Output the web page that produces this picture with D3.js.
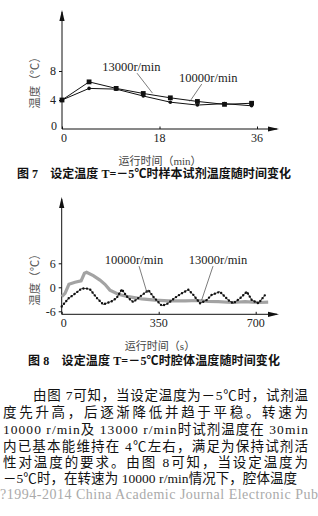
<!DOCTYPE html>
<html>
<head>
<meta charset="utf-8">
<script src="https://cdn.jsdelivr.net/npm/d3@7"></script>
<style>
  body { margin: 0; background: #fff; }
  svg { display: block; }
  text { font-family: "Liberation Serif", "Noto Sans CJK SC", serif; }
</style>
</head>
<body>
<div id="page"></div>
<script>
// fig 7 - reagent temperature (min)
const fig7Time = [0, 5, 10, 15, 20, 25, 30, 35];
const fig7Temp13000 = [4.0, 6.5, 5.6, 4.9, 4.3, 3.8, 3.4, 3.55];
const fig7Temp10000 = [4.0, 5.6, 5.5, 4.55, 3.7, 3.3, 3.5, 3.2];
const fig7XTicks = [0, 18, 36];
const fig7YTicks = [0, 4, 8];

// fig 8 - chamber temperature (s)
const fig8Time13000 = [0, 12, 26, 48, 70, 82, 90, 114, 138, 156, 174, 204, 240, 289, 337, 385, 445, 493, 529, 565, 614, 662, 710, 745];
const fig8Temp13000 = [-2.35, -1.5, 0.75, 1.25, 1.6, 3.5, 3.75, 2.9, 1.8, 0.75, -0.7, -1.75, -2.35, -2.9, -3.2, -3.4, -3.4, -3.3, -3.5, -3.6, -3.8, -3.6, -3.8, -3.7];
const fig8Time10000 = [0, 12, 24, 48, 72, 90, 102, 126, 150, 180, 198, 217, 235, 258, 283, 313, 331, 361, 379, 391, 409, 433, 457, 475, 499, 523, 541, 571, 601, 619, 643, 668, 686, 710, 734];
const fig8Temp10000 = [-4.8, -3.8, -2.8, -1.6, -0.3, -0.3, -0.5, -2.6, -4.3, -3.5, -2.7, -0.5, -2.3, -3.7, -2.3, -0.7, -2.4, -4.6, -4.2, -3.6, -2.6, -1.5, -0.6, -1.9, -4.0, -3.2, -1.9, -1.1, -3.2, -4.0, -2.8, -1.1, -3.2, -4.0, -1.9];
const fig8XTicks = [0, 350, 700];
const fig8YTicks = [-6, 0, 6];

const caption7 = "图 7　设定温度 T=－5℃时样本试剂温度随时间变化";
const caption8 = "图 8　设定温度 T=－5℃时腔体温度随时间变化";
const bodyLines = [
  "由图 7可知，当设定温度为－5℃时，试剂温",
  "度先升高，后逐渐降低并趋于平稳。转速为",
  "10000 r/min及 13000 r/min时试剂温度在 30min",
  "内已基本能维持在 4℃左右，满足为保持试剂活",
  "性对温度的要求。由图 8可知，当设定温度为",
  "－5℃时，在转速为 10000 r/min情况下，腔体温度"
];

const W = 318, H = 516;
const svg = d3.select('#page').append('svg')
  .attr('width', W).attr('height', H);
svg.append('rect').attr('width', W).attr('height', H).attr('fill', '#fff');

const arrow = (g, x1, y1, x2, y2, vertical) => {
  g.append('line').attr('x1', x1).attr('y1', y1).attr('x2', x2).attr('y2', y2)
    .attr('stroke', '#111').attr('stroke-width', 1);
  const pts = vertical
    ? [[x2, y2 - 2], [x2 - 2.6, y2 + 9], [x2 + 2.6, y2 + 9]]
    : [[x2 + 2, y2], [x2 - 9, y2 - 2.6], [x2 - 9, y2 + 2.6]];
  g.append('path').attr('d', 'M' + pts.join('L') + 'Z').attr('fill', '#111');
};

const drawFrame = (g, x, y, xTicks, yTicks, xTitle, yTitle, yTitleY, axisY, topY, tickFmt) => {
  const [x0] = x.range();
  // ticks via d3 axes, domain drawn separately with arrows
  const ya = g.append('g').attr('transform', `translate(${x0},0)`)
    .call(d3.axisLeft(y).tickValues(yTicks).tickSize(3).tickPadding(3).tickFormat(tickFmt));
  const xa = g.append('g').attr('transform', `translate(0,${axisY})`)
    .call(d3.axisTop(x).tickValues(xTicks).tickSize(2.5).tickFormat(''));
  [ya, xa].forEach(a => {
    a.select('.domain').remove();
    a.selectAll('line').attr('stroke', '#111');
    a.selectAll('text').attr('font-size', 12).attr('fill', '#222')
      .attr('font-family', '"Liberation Serif", serif');
  });
  g.selectAll('.xlab').data(xTicks).enter().append('text')
    .attr('x', d => x(d) + (d === 0 ? 2 : 0)).attr('y', axisY + 13)
    .attr('text-anchor', 'middle').attr('font-size', 12).attr('fill', '#222')
    .text(d => d);
  arrow(g, x0, axisY, x0, topY, true);
  arrow(g, x0, axisY, 277, axisY, false);
  g.append('text').attr('x', 160).attr('y', axisY + 36)
    .attr('text-anchor', 'middle').attr('font-size', 11).attr('fill', '#444')
    .text(xTitle);
  g.append('text').attr('transform', `translate(39,${yTitleY}) rotate(-90)`)
    .attr('text-anchor', 'middle').attr('font-size', 11.5).attr('fill', '#555')
    .text(yTitle);
};

const leader = (g, x, y, lab) => {
  g.append('text').attr('x', x(lab.t)).attr('y', y(lab.v))
    .attr('text-anchor', 'middle').attr('font-size', 12.5).attr('fill', '#222')
    .text(lab.text);
  g.append('line')
    .attr('x1', x(lab.from[0])).attr('y1', y(lab.from[1]))
    .attr('x2', x(lab.to[0])).attr('y2', y(lab.to[1]))
    .attr('stroke', '#444').attr('stroke-width', 0.7);
};

// ---------- Fig 7 ----------
const g7 = svg.append('g');
const x7 = d3.scaleLinear().domain([0, 36]).range([62, 257]);
const y7 = d3.scaleLinear().domain([0, 8]).range([129, 71]);
drawFrame(g7, x7, y7, fig7XTicks, fig7YTicks.filter(d => d > 0), '运行时间（min）', '温度（℃）', 80, 129, 12, d => d);
g7.append('text').attr('x', 57).attr('y', 130).attr('text-anchor', 'end')
  .attr('font-size', 12).attr('fill', '#222').text(fig7YTicks[0]);

const line7 = d3.line().x((d, i) => x7(fig7Time[i])).y(d => y7(d));
[fig7Temp13000, fig7Temp10000].forEach(s => {
  g7.append('path').attr('d', line7(s)).attr('fill', 'none')
    .attr('stroke', '#111').attr('stroke-width', 1);
});
g7.selectAll('.sq').data(fig7Temp13000).enter().append('rect')
  .attr('x', (d, i) => x7(fig7Time[i]) - 2.4).attr('y', d => y7(d) - 2.4)
  .attr('width', 4.8).attr('height', 4.8).attr('fill', '#111');
g7.selectAll('.ci').data(fig7Temp10000).enter().append('circle')
  .attr('cx', (d, i) => x7(fig7Time[i])).attr('cy', d => y7(d))
  .attr('r', 1.8).attr('fill', '#111');

leader(g7, x7, y7, { text: '13000r/min', t: 12.8, v: 8.0, from: [13.85, 7.7], to: [16.7, 4.95] });
leader(g7, x7, y7, { text: '10000r/min', t: 27.0, v: 6.5, from: [25.8, 6.2], to: [23.6, 3.8] });

svg.append('text').attr('x', 17).attr('y', 178)
  .attr('font-size', 12).attr('font-weight', 'bold').attr('fill', '#111')
  .attr('textLength', 274).attr('lengthAdjust', 'spacing')
  .text(caption7);

// ---------- Fig 8 ----------
const g8 = svg.append('g');
const x8 = d3.scaleLinear().domain([0, 700]).range([61.7, 255.7]);
const y8 = d3.scaleLinear().domain([-6, 6]).range([311.3, 263.3]);
drawFrame(g8, x8, y8, fig8XTicks, fig8YTicks, '运行时间（s）', '温度（℃）', 277, 314.3, 199, d => d < 0 ? '-' + Math.abs(d) : d);

const line13 = d3.line().x((d, i) => x8(fig8Time13000[i])).y(d => y8(d));
g8.append('path').attr('d', line13(fig8Temp13000)).attr('fill', 'none')
  .attr('stroke', '#a3a3a3').attr('stroke-width', 3.2).attr('stroke-linejoin', 'miter');

const line10 = d3.line().x((d, i) => x8(fig8Time10000[i])).y(d => y8(d));
g8.append('path').attr('d', line10(fig8Temp10000)).attr('fill', 'none')
  .attr('stroke', '#222').attr('stroke-width', 0.8);
g8.append('path').attr('d', line10(fig8Temp10000)).attr('fill', 'none')
  .attr('stroke', '#111').attr('stroke-width', 2.4)
  .attr('stroke-linecap', 'round').attr('stroke-dasharray', '0,3.6');

leader(g8, x8, y8, { text: '10000r/min', t: 261, v: 5.8, from: [279, 5.3], to: [308, -1.4] });
leader(g8, x8, y8, { text: '13000r/min', t: 564, v: 5.8, from: [546, 5.3], to: [505, -3.2] });

svg.append('text').attr('x', 28).attr('y', 365)
  .attr('font-size', 12).attr('font-weight', 'bold').attr('fill', '#111')
  .attr('textLength', 252).attr('lengthAdjust', 'spacing')
  .text(caption8);

// ---------- body text ----------
const lineY = [400, 417, 434, 451, 467, 483];
svg.selectAll('.body').data(bodyLines).enter().append('text')
  .attr('x', (d, i) => i === 0 ? 33 : 3)
  .attr('y', (d, i) => lineY[i])
  .attr('font-size', 13.5).attr('fill', '#111')
  .attr('textLength', (d, i) => i === 0 ? 275 : (i === 5 ? 294 : 305))
  .attr('lengthAdjust', 'spacing')
  .text(d => d);

svg.append('text').attr('x', 0).attr('y', 499)
  .attr('font-size', 14).attr('fill', '#aaa')
  .attr('textLength', 318).attr('lengthAdjust', 'spacing')
  .text('?1994-2014 China Academic Journal Electronic Pub');
</script>
</body>
</html>
